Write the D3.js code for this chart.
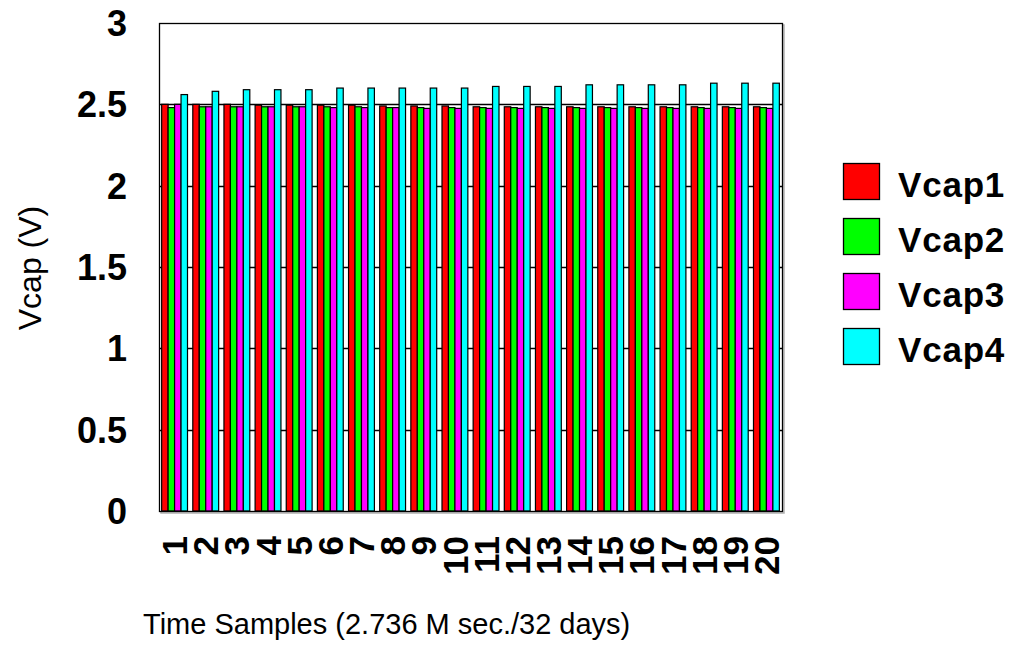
<!DOCTYPE html>
<html>
<head>
<meta charset="utf-8">
<script src="https://cdn.jsdelivr.net/npm/d3@7"></script>
<style>
  html, body { margin: 0; padding: 0; background: #fff; }
  svg { display: block; }
</style>
</head>
<body>
<svg id="chart" width="1019" height="651"></svg>
<script>
const categories = ["1","2","3","4","5","6","7","8","9","10","11","12","13","14","15","16","17","18","19","20"];
const seriesNames = ["Vcap1","Vcap2","Vcap3","Vcap4"];
const vcap1 = [2.50,2.50,2.50,2.495,2.495,2.495,2.495,2.49,2.49,2.49,2.485,2.485,2.485,2.485,2.485,2.485,2.485,2.485,2.485,2.485];
const vcap2 = [2.48,2.485,2.485,2.485,2.485,2.485,2.485,2.48,2.48,2.48,2.48,2.48,2.48,2.48,2.48,2.48,2.48,2.48,2.48,2.48];
const vcap3 = [2.50,2.485,2.485,2.485,2.485,2.48,2.48,2.48,2.475,2.475,2.475,2.475,2.475,2.475,2.475,2.475,2.475,2.475,2.475,2.475];
const vcap4 = [2.56,2.58,2.59,2.59,2.59,2.60,2.60,2.60,2.60,2.60,2.61,2.61,2.61,2.62,2.62,2.62,2.62,2.63,2.63,2.63];
const yTicks = [0,0.5,1,1.5,2,2.5,3];
const yTickLabels = ["0","0.5","1","1.5","2","2.5","3"];
const colors = ["#ff0000","#00ff00","#ff00ff","#00ffff"];
const xTitle = "Time Samples (2.736 M sec./32 days)";
const yTitle = "Vcap (V)";

const series = [vcap1, vcap2, vcap3, vcap4];
const svg = d3.select("#chart");
const L = 159, R = 782, T = 23, B = 511;
const font = "'Liberation Sans', Arial, Helvetica, sans-serif";

const x = d3.scaleBand().domain(categories).range([L, R]).paddingInner(0.17).paddingOuter(0.085);
const xs = d3.scaleBand().domain(seriesNames).range([0, x.bandwidth()]);
const y = d3.scaleLinear().domain([0, 3]).range([B, T]);

// shadow
svg.append("rect").attr("x", L + 2).attr("y", T + 2).attr("width", R - L).attr("height", B - T)
  .attr("fill", "none").attr("stroke", "#b0b0b0").attr("stroke-width", 1.5);
svg.append("rect").attr("x", L).attr("y", T).attr("width", R - L).attr("height", B - T)
  .attr("fill", "#fff").attr("stroke", "none");

// gridlines
svg.append("g").selectAll("line").data(yTicks.filter(v => v > 0 && v < 3)).join("line")
  .attr("x1", L).attr("x2", R).attr("y1", d => Math.round(y(d)) + 0.5).attr("y2", d => Math.round(y(d)) + 0.5)
  .attr("stroke", "#000").attr("stroke-width", 1.3);

// bars
const groups = svg.append("g").selectAll("g").data(categories).join("g")
  .attr("transform", d => `translate(${x(d)},0)`);
groups.selectAll("rect").data((d, i) => seriesNames.map((s, k) => ({s, v: series[k][i], k}))).join("rect")
  .attr("x", d => xs(d.s))
  .attr("y", d => y(d.v))
  .attr("width", xs.bandwidth())
  .attr("height", d => y(0) - y(d.v))
  .attr("fill", d => colors[d.k])
  .attr("stroke", "#000").attr("stroke-width", 1.2);

// frame
svg.append("rect").attr("x", L + 0.5).attr("y", T + 0.5).attr("width", R - L).attr("height", B - T)
  .attr("fill", "none").attr("stroke", "#000").attr("stroke-width", 1.3);

// y tick labels
svg.append("g").selectAll("text").data(yTicks).join("text")
  .attr("x", 127).attr("y", d => y(d)).attr("dy", "0.36em")
  .attr("text-anchor", "end").attr("font-family", font).attr("font-weight", "bold")
  .attr("font-size", 36).text((d, i) => yTickLabels[i]);

// x tick labels
svg.append("g").selectAll("text").data(categories).join("text")
  .attr("transform", d => `translate(${x(d) + x.bandwidth() / 2},536) rotate(-90)`)
  .attr("dy", "0.36em")
  .attr("text-anchor", "end").attr("font-family", font).attr("font-weight", "bold")
  .attr("font-size", 35).text(d => d);

// axis titles
svg.append("text").attr("x", 143).attr("y", 634).attr("font-family", font)
  .attr("font-size", 29).text(xTitle);
svg.append("text").attr("transform", "translate(41,268) rotate(-90)")
  .attr("text-anchor", "middle").attr("font-family", font).attr("font-size", 32).text(yTitle);

// legend
const leg = svg.append("g").selectAll("g").data(seriesNames).join("g")
  .attr("transform", (d, i) => `translate(843,${163 + i * 55})`);
leg.append("rect").attr("x", 0.5).attr("y", 0.5).attr("width", 36).attr("height", 36)
  .attr("fill", (d, i) => colors[i]).attr("stroke", "#000").attr("stroke-width", 1.3);
leg.append("text").attr("x", 55).attr("y", 34).attr("font-family", font).attr("font-weight", "bold")
  .attr("font-size", 35).attr("letter-spacing", 0.8).text(d => d);
</script>
</body>
</html>
